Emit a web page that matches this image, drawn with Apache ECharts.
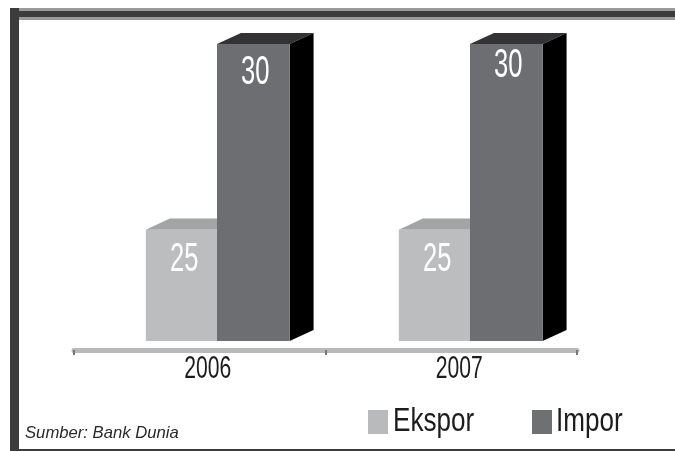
<!DOCTYPE html>
<html>
<head>
<meta charset="utf-8">
<style>html,body{margin:0;padding:0;background:#fff}#chart{width:675px;height:451px}</style>
<script src="https://cdn.jsdelivr.net/npm/echarts@6/dist/echarts.min.js"></script>
</head>
<body>
<div id="chart"></div>
<script>
const years = ['2006', '2007'];
const ekspor = [25, 25];
const impor = [30, 30];
const seriesNames = ['Ekspor', 'Impor'];
const AXIS_FLOOR = 22;
const SANS = '"Liberation Sans",sans-serif';
const EKSPOR_FILL = '#bcbdbf';
const IMPOR_FILL = '#6d6e71';

// Condensed text is ordinary text squeezed horizontally around its anchor.
function squeezed(text, x, y, size, fill, scale, align) {
  return {
    type: 'text', x: x, y: y, scaleX: scale, z2: 5,
    style: { text: text, x: 0, y: 0, align: align || 'center', verticalAlign: 'middle',
             fill: fill, fontFamily: SANS, fontSize: size }
  };
}

// Extruded column: top face, dark right-hand side, front face and value.
function column(shift, front, top, side, labelDrop, labelSize) {
  return function (params, api) {
    const year = api.value(0), value = api.value(1);
    const band = api.size([1, 0])[0];
    const w = band * 0.287, dx = w * 0.33, dy = w * 0.152;
    const head = api.coord([year, value]);
    const foot = api.coord([year, AXIS_FLOOR]);
    const x = head[0] + shift * w, y = head[1], b = foot[1];
    return {
      type: 'group',
      children: [
        { type: 'polygon', shape: { points: [[x, y], [x + dx, y - dy], [x + w + dx, y - dy], [x + w, y]] }, style: { fill: top } },
        { type: 'polygon', shape: { points: [[x + w, y], [x + w + dx, y - dy], [x + w + dx, b - dy], [x + w, b]] }, style: { fill: side } },
        { type: 'rect', shape: { x: x, y: y, width: w, height: b - y }, style: { fill: front } },
        squeezed(String(value), x + w / 2 + 2, y + labelDrop[params.dataIndex], labelSize, '#fff', 0.64)
      ]
    };
  };
}

function yearLabel(params, api) {
  const p = api.coord([api.value(0), 0]);
  return squeezed(years[params.dataIndex], p[0] + 8, p[1] + 19, 32, '#1c1c1c', 0.66);
}

function pairs(values) { return values.map((v, i) => [i, v]); }

// Legend entry: swatch plus squeezed name.
function legendEntry(name, swatchX, textX, fill) {
  return [
    { type: 'rect', z: 12, shape: { x: swatchX, y: 410, width: 20, height: 24 }, style: { fill: fill } },
    Object.assign(squeezed(name, textX, 422, 33, '#1c1c1c', 0.79, 'left'), { z: 12 })
  ];
}

const chart = echarts.init(document.getElementById('chart'), null, { renderer: 'canvas' });
chart.setOption({
  animation: false,
  backgroundColor: '#fff',
  grid: [
    { left: 90.5, width: 506, top: 44, height: 297 },
    { left: 74, width: 503, top: 300, height: 50 }
  ],
  xAxis: [
    { type: 'category', gridIndex: 0, data: years, show: false },
    {
      type: 'category', gridIndex: 1, data: years,
      axisLine: { lineStyle: { color: '#b9b9b9', width: 5 } },
      axisTick: { show: true, length: 5, lineStyle: { color: '#777', width: 2 } },
      axisLabel: { show: false }
    }
  ],
  yAxis: [
    { type: 'value', gridIndex: 0, min: AXIS_FLOOR, max: 30, show: false },
    { type: 'value', gridIndex: 1, min: 0, max: 1, show: false }
  ],
  series: [
    { name: seriesNames[0], type: 'custom', xAxisIndex: 0, yAxisIndex: 0, data: pairs(ekspor), z: 2,
      renderItem: column(-0.98, EKSPOR_FILL, '#a3a4a5', '#8a8a8a', [30, 30], 40) },
    { name: seriesNames[1], type: 'custom', xAxisIndex: 0, yAxisIndex: 0, data: pairs(impor), z: 3,
      renderItem: column(0, IMPOR_FILL, '#333335', '#000000', [29, 22], 40) },
    { name: 'years', type: 'custom', xAxisIndex: 1, yAxisIndex: 1, data: years.map((y, i) => [i, 0]), z: 4,
      renderItem: yearLabel }
  ],
  graphic: [
    { type: 'rect', z: 10, shape: { x: 10, y: 8, width: 665, height: 12 }, style: { fill: '#9a9a9a' } },
    { type: 'rect', z: 11, shape: { x: 10, y: 11, width: 665, height: 6 }, style: { fill: '#3c3c3c' } },
    { type: 'rect', z: 11, shape: { x: 10, y: 8, width: 9, height: 443 }, style: { fill: '#3c3c3c' } },
    { type: 'rect', z: 11, shape: { x: 10, y: 449, width: 665, height: 2 }, style: { fill: '#3c3c3c' } },
    { type: 'text', z: 12, x: 25, y: 433, scaleX: 0.98, style: {
        text: 'Sumber: Bank Dunia', x: 0, y: 0, verticalAlign: 'middle',
        fill: '#2a2a2a', fontFamily: SANS, fontStyle: 'italic', fontSize: 17
    } }
  ].concat(
    legendEntry(seriesNames[0], 368, 393, '#b9babb'),
    legendEntry(seriesNames[1], 532, 556, '#6f7072')
  )
});
</script>
</body>
</html>
